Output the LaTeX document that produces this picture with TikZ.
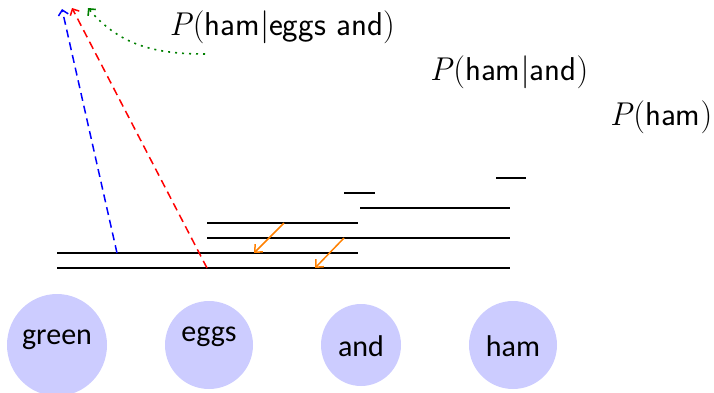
\documentclass[tikz,border=0pt]{standalone}
\usepackage{fontspec}
\newfontfamily\circfont{Carlito}
\usetikzlibrary{arrows.meta}
\newcommand{\probtext}[1]{{\rmfamily\itshape P\/}{\rmfamily(}#1{\rmfamily)}}
\newcommand{\givenbar}{{\rmfamily|}}
\begin{document}
\begin{tikzpicture}[x=1pt,y=-1pt,
  seg/.style={line width=1.6pt},
  word/.style={inner sep=0pt,font=\circfont\fontsize{30}{36}\selectfont},
  prob/.style={inner sep=0pt,font=\sffamily\fontsize{33}{40}\selectfont},
  backarrow/.style={dash pattern=on 8pt off 5pt,line width=1.5pt,-{Straight Barb[length=5pt,width=10pt]}},
  shiftarrow/.style={orange,line width=1.5pt,-{Straight Barb[length=6pt,width=11pt]}}]
\useasboundingbox (0,0) rectangle (714,392);
% word circles
\path[fill=blue!20] (57,345) ellipse[x radius=50,y radius=51];
\node[word] (green) at (57,340) {green};
\path[fill=blue!20] (209,345) ellipse[x radius=44,y radius=44];
\node[word] (eggs) at (209,337) {eggs};
\path[fill=blue!20] (361,345) ellipse[x radius=40,y radius=41];
\node[word] (and) at (361,346) {and};
\path[fill=blue!20] (513,345) ellipse[x radius=44,y radius=44];
\node[word] (ham) at (513,346) {ham};
% probability labels
\node[prob] (p3) at (282,27) {\probtext{ham\givenbar eggs and}};
\node[prob] (p2) at (509,72) {\probtext{ham\givenbar and}};
\node[prob] (p1) at (661,117) {\probtext{ham}};
% horizontal segments
\coordinate (a1) at (57,268); \coordinate (a2) at (510,268);
\coordinate (b1) at (57,253); \coordinate (b2) at (358,253);
\coordinate (c1) at (207,238); \coordinate (c2) at (510,238);
\coordinate (d1) at (207,223); \coordinate (d2) at (358,223);
\coordinate (e1) at (360,208); \coordinate (e2) at (510,208);
\coordinate (f1) at (344,193); \coordinate (f2) at (375,193);
\coordinate (g1) at (496,178); \coordinate (g2) at (526,178);
\draw[seg] (a1) -- (a2);
\draw[seg] (b1) -- (b2);
\draw[seg] (c1) -- (c2);
\draw[seg] (d1) -- (d2);
\draw[seg] (e1) -- (e2);
\draw[seg] (f1) -- (f2);
\draw[seg] (g1) -- (g2);
% orange arrows
\coordinate (o1s) at (284,223); \coordinate (o1e) at (254,253);
\coordinate (o2s) at (344,238); \coordinate (o2e) at (315,268);
\draw[shiftarrow] (o1s) -- (o1e);
\draw[shiftarrow] (o2s) -- (o2e);
% back-off arrows
\coordinate (bs) at (117,253); \coordinate (be) at (62,9);
\coordinate (rs) at (207,268); \coordinate (re) at (72,8);
\coordinate (gs) at (205,54); \coordinate (ge) at (88,8);
\draw[backarrow,blue] (bs) -- (be);
\draw[backarrow,red] (rs) -- (re);
\draw[dash pattern=on 2pt off 5pt,line width=1.6pt,green!50!black,-{Straight Barb[length=5pt,width=10pt]}] (gs) to[out=180,in=-50] (ge);
\end{tikzpicture}
\end{document}
